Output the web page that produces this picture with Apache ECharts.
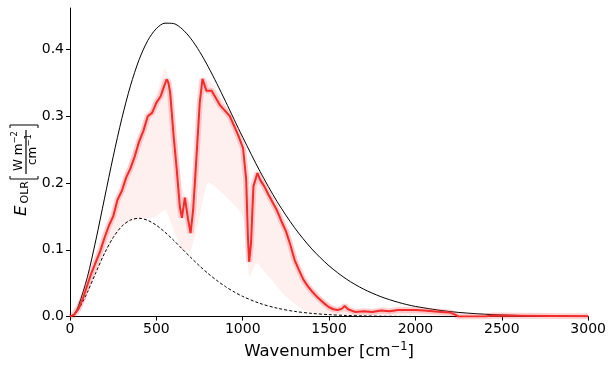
<!DOCTYPE html>
<html>
<head>
<meta charset="UTF-8">
<title>OLR spectrum</title>
<style>
  html, body { margin: 0; padding: 0; background: #fff; }
  #chart { width: 609px; height: 365px; }
</style>
<script src="https://cdn.jsdelivr.net/npm/echarts@6/dist/echarts.min.js"></script>
</head>
<body>
<div id="chart"></div>
<script>
// blackbody curves (surface ~291 K, solid; ~202 K, dashed)
var planckWn   = [0, 25, 50, 100, 150, 200, 250, 300, 350, 400, 450, 500, 550, 600, 650, 700, 750, 800, 850, 900, 950, 1000, 1100, 1200, 1300, 1400, 1500, 1600, 1700, 1800, 1900, 2000, 2200, 2400, 2600, 2800, 3000];
var planckWarm = [0, 0.0044, 0.0167, 0.0585, 0.1149, 0.1773, 0.2394, 0.2965, 0.3455, 0.3846, 0.4132, 0.4312, 0.4393, 0.4387, 0.4304, 0.4161, 0.3969, 0.3741, 0.3489, 0.3224, 0.2953, 0.2685, 0.2174, 0.1718, 0.1331, 0.1013, 0.0760, 0.0562, 0.0411, 0.0298, 0.0214, 0.0152, 0.0075, 0.0036, 0.0017, 0.0008, 0.0004];
var planckCold = [0, 0.0030, 0.0109, 0.0360, 0.0661, 0.0949, 0.1185, 0.1352, 0.1446, 0.1472, 0.1441, 0.1367, 0.1263, 0.1142, 0.1012, 0.0883, 0.0759, 0.0644, 0.0541, 0.0449, 0.0370, 0.0302, 0.0197, 0.0126, 0.0078, 0.0048, 0.0029, 0.0017, 0.0010, 0.0006, 0.0003, 0.0002, 0.0001, 0, 0, 0, 0];

// smoothed OLR spectrum (thick red line)
var olrWn  = [0, 25, 50, 75, 100, 125, 150, 175, 200, 225, 250, 275, 300, 325, 350, 375, 400, 425, 450, 475, 500, 525, 545, 560, 570, 580, 600, 617, 636, 648, 665, 684, 698, 713, 732, 751, 767, 790, 820, 867, 925, 973, 1002, 1020, 1030, 1037, 1048, 1062, 1085, 1100, 1125, 1150, 1175, 1200, 1225, 1250, 1275, 1300, 1325, 1350, 1375, 1400, 1425, 1450, 1475, 1500, 1525, 1550, 1575, 1590, 1610, 1650, 1700, 1750, 1800, 1850, 1900, 1950, 2000, 2050, 2100, 2150, 2200, 2230, 2250, 2400, 2450, 2600, 2800, 3000];
var olrVal = [0, 0.003, 0.012, 0.027, 0.047, 0.066, 0.082, 0.098, 0.118, 0.136, 0.150, 0.175, 0.188, 0.208, 0.222, 0.240, 0.262, 0.278, 0.300, 0.305, 0.320, 0.330, 0.345, 0.355, 0.350, 0.335, 0.270, 0.223, 0.164, 0.148, 0.178, 0.145, 0.125, 0.160, 0.238, 0.320, 0.356, 0.338, 0.338, 0.317, 0.300, 0.272, 0.252, 0.205, 0.120, 0.082, 0.110, 0.195, 0.215, 0.205, 0.195, 0.182, 0.170, 0.158, 0.142, 0.128, 0.108, 0.085, 0.070, 0.056, 0.046, 0.038, 0.031, 0.025, 0.019, 0.014, 0.011, 0.010, 0.012, 0.016, 0.011, 0.007, 0.008, 0.007, 0.009, 0.008, 0.010, 0.010, 0.010, 0.009, 0.008, 0.007, 0.006, 0.003, 0, 0, 0.0015, 0.0012, 0.0008, 0.0005];

// faint spread of the line-by-line spectrum
var hazeWn   = [0, 100, 200, 300, 400, 500, 550, 600, 650, 700, 750, 800, 900, 1000, 1040, 1080, 1150, 1250, 1350, 1450, 1550, 1650, 1800, 2000, 2250];
var hazeHigh = [0, 0.052, 0.125, 0.198, 0.272, 0.332, 0.372, 0.32, 0.19, 0.17, 0.33, 0.355, 0.318, 0.258, 0.17, 0.22, 0.188, 0.138, 0.062, 0.03, 0.013, 0.009, 0.010, 0.011, 0.004];
var hazeLow  = [0, 0.035, 0.09, 0.135, 0.145, 0.15, 0.16, 0.13, 0.10, 0.10, 0.15, 0.20, 0.18, 0.15, 0.06, 0.08, 0.06, 0.03, 0.01, 0.004, 0.002, 0.002, 0.002, 0.002, 0];

var xTicks = [0, 500, 1000, 1500, 2000, 2500, 3000];
var yTicks = [0, 0.1, 0.2, 0.3, 0.4];

function pairs(xs, ys) {
  return xs.map(function (x, i) { return [x, ys[i]]; });
}

var font = 'DejaVu Sans';
var chart = echarts.init(document.getElementById('chart'));

function txt(x, y, s, size, extra) {
  var st = { text: s, fontSize: size, fontFamily: font, fill: '#000', align: 'left', verticalAlign: 'middle' };
  for (var k in extra) st[k] = extra[k];
  return { type: 'text', x: x, y: y, style: st };
}

// band between the low and high envelopes, placed with the chart's own scales
function hazeBand(params, api) {
  if (params.dataIndex !== 0) return;
  var pts = [];
  for (var i = 0; i < hazeWn.length; i++) pts.push(api.coord([hazeWn[i], hazeHigh[i]]));
  for (var j = hazeWn.length - 1; j >= 0; j--) pts.push(api.coord([hazeWn[j], hazeLow[j]]));
  return { type: 'polygon', shape: { points: pts, smooth: 0.2 }, style: { fill: 'rgba(250,90,90,0.09)' } };
}

var option = {
  animation: false,
  grid: { left: 70, right: 20, top: 8, bottom: 44 },
  xAxis: {
    type: 'value', min: 0, max: 3000, interval: 500,
    splitLine: { show: false },
    axisLine: { lineStyle: { color: '#000', width: 1 } },
    axisTick: { length: 4, lineStyle: { color: '#000' }, customValues: xTicks },
    axisLabel: {
      fontSize: 14, fontFamily: font, color: '#000', margin: 6, customValues: xTicks,
      formatter: function (v) { return String(v); }
    },
    name: '{a|Wavenumber [cm}{s|\u22121}{a|]}',
    nameLocation: 'middle', nameGap: 22,
    nameTextStyle: {
      rich: {
        a: { fontSize: 16.5, fontFamily: font, color: '#000', lineHeight: 20 },
        s: { fontSize: 11.5, fontFamily: font, color: '#000', lineHeight: 10, verticalAlign: 'top' }
      }
    }
  },
  yAxis: {
    type: 'value', min: 0, max: 0.462, interval: 0.1,
    splitLine: { show: false },
    axisLine: { show: true, lineStyle: { color: '#000', width: 1 } },
    axisTick: { show: true, length: 4, lineStyle: { color: '#000' }, customValues: yTicks },
    axisLabel: {
      fontSize: 14, fontFamily: font, color: '#000', margin: 6, customValues: yTicks,
      formatter: function (v) { return v.toFixed(1); }
    }
  },
  graphic: [{
    type: 'group', x: 22, y: 216, rotation: Math.PI / 2,
    children: [
      txt(0, 0, 'E', 16.5, { fontStyle: 'italic' }),
      txt(12.5, 3.5, 'OLR', 11),
      { type: 'polyline', shape: { points: [[40, -12], [37, -12], [37, 16], [40, 16]] }, style: { stroke: '#000', lineWidth: 1, fill: null } },
      txt(45, -3, 'W m', 12),
      txt(72.5, -7.5, '\u22122', 8.5),
      { type: 'line', shape: { x1: 42, y1: 4, x2: 86, y2: 4 }, style: { stroke: '#000', lineWidth: 1.2 } },
      txt(51, 11, 'cm', 12),
      txt(69.5, 6.5, '\u22121', 8.5),
      { type: 'polyline', shape: { points: [[88, -12], [91, -12], [91, 16], [88, 16]] }, style: { stroke: '#000', lineWidth: 1, fill: null } }
    ]
  }],
  series: [
    {
      name: 'haze', type: 'custom', silent: true,
      renderItem: hazeBand,
      data: pairs(hazeWn, hazeHigh),
      encode: { x: 0, y: 1 }, z: 1
    },
    {
      name: 'Planck surface', type: 'line', symbol: 'none', smooth: 0.3,
      data: pairs(planckWn, planckWarm),
      lineStyle: { color: '#000', width: 1 }, z: 3
    },
    {
      name: 'Planck cold', type: 'line', symbol: 'none', smooth: 0.3,
      data: pairs(planckWn, planckCold),
      lineStyle: { color: '#000', width: 1, type: [3, 2] }, z: 3
    },
    {
      name: 'OLR halo', type: 'line', symbol: 'none',
      data: pairs(olrWn, olrVal),
      lineStyle: { color: 'rgba(245,50,50,0.22)', width: 6 }, z: 4
    },
    {
      name: 'OLR', type: 'line', symbol: 'none',
      data: pairs(olrWn, olrVal),
      lineStyle: { color: '#f22b2b', width: 2 }, z: 5
    }
  ]
};
chart.setOption(option);
</script>
</body>
</html>
